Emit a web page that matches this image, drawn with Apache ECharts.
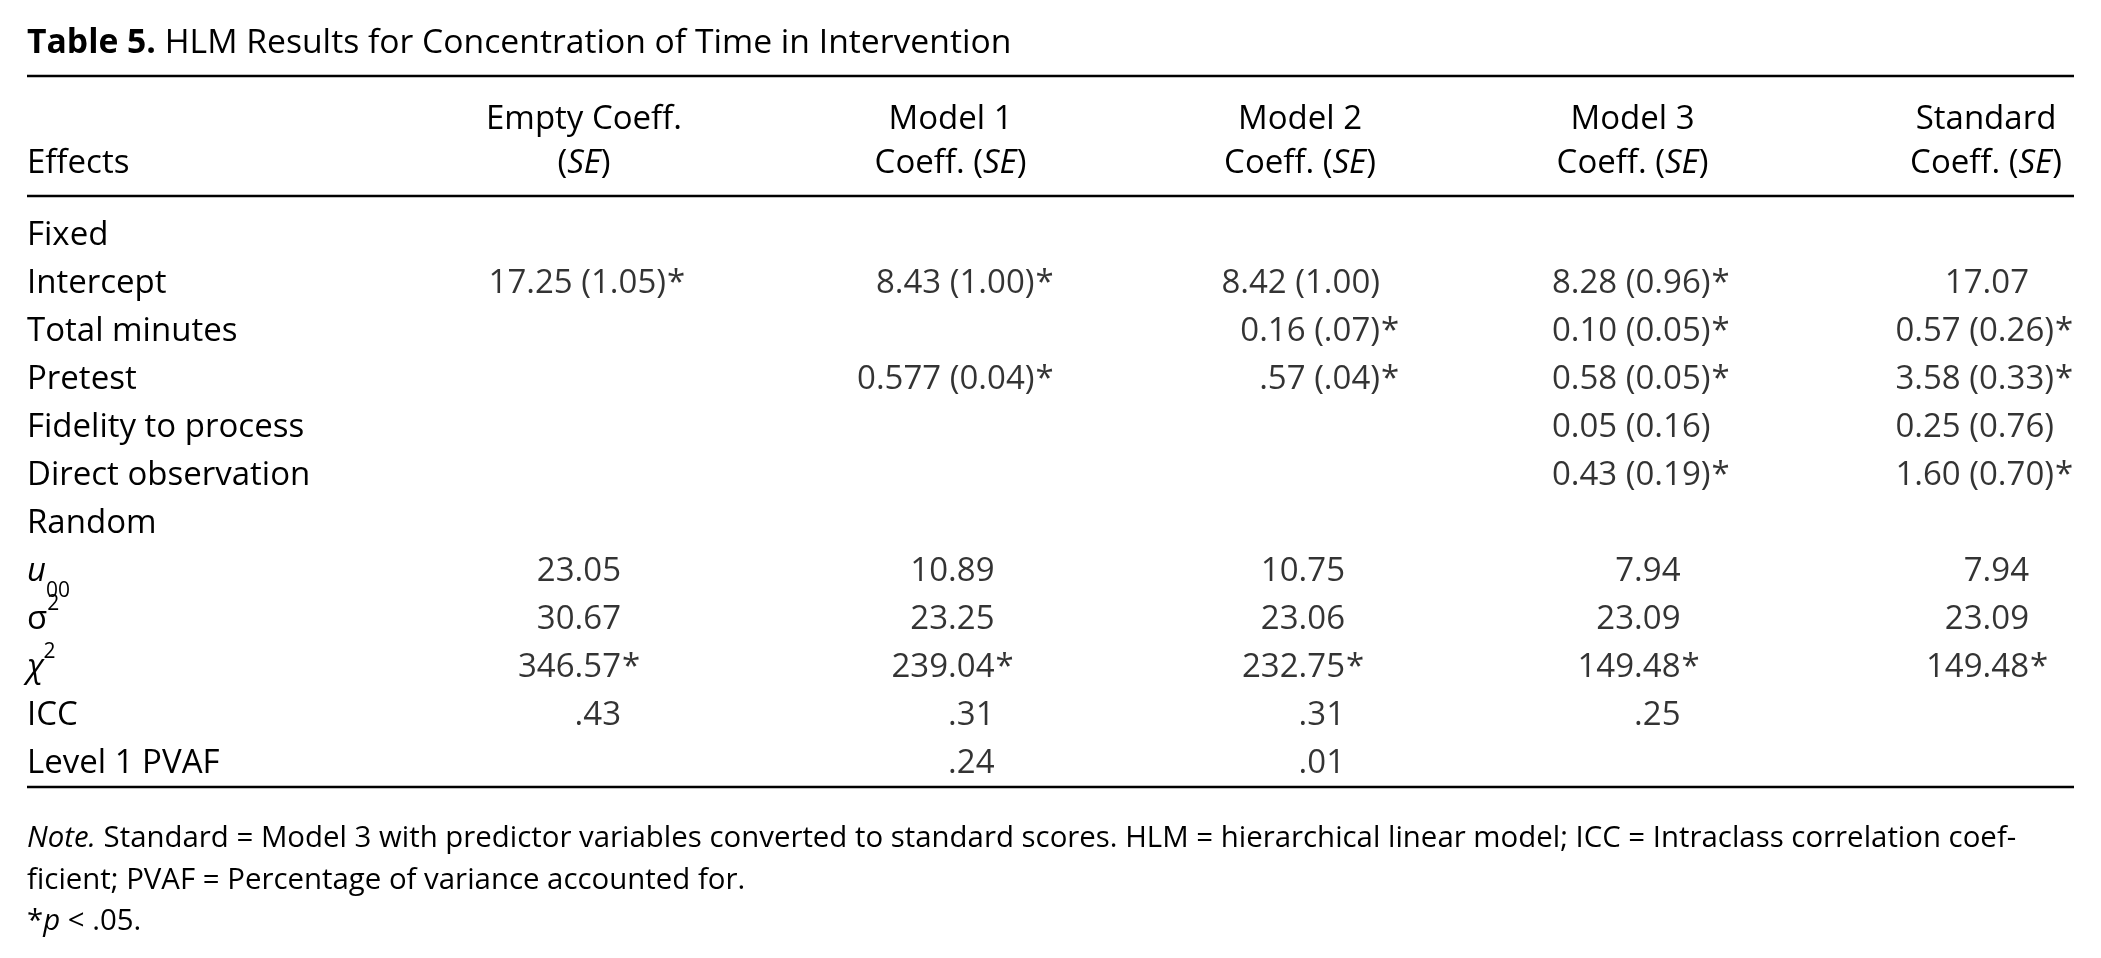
<!DOCTYPE html>
<html>
<head>
<meta charset="utf-8">
<script src="https://cdn.jsdelivr.net/npm/echarts@6.0.0/dist/echarts.min.js"></script>
<style>html,body{margin:0;background:#fff}#main{width:2101px;height:958px}</style>
</head>
<body>
<div id="main"></div>
<script>
// table content
var rowLabels = ['Fixed', 'Intercept', 'Total minutes', 'Pretest', 'Fidelity to process', 'Direct observation',
  'Random', 'u₀₀', 'σ²', 'χ²', 'ICC', 'Level 1 PVAF'];
var headTop = ['Empty Coeff.', 'Model 1', 'Model 2', 'Model 3', 'Standard'];
var headBottom = ['(SE)', 'Coeff. (SE)', 'Coeff. (SE)', 'Coeff. (SE)', 'Coeff. (SE)'];

var emptyVals = ['', '17.25 (1.05)', '', '', '', '', '', '23.05', '30.67', '346.57', '.43', ''];
var emptyStars = [0, 1, 0, 0, 0, 0, 0, 0, 0, 1, 0, 0];
var model1Vals = ['', '8.43 (1.00)', '', '0.577 (0.04)', '', '', '', '10.89', '23.25', '239.04', '.31', '.24'];
var model1Stars = [0, 1, 0, 1, 0, 0, 0, 0, 0, 1, 0, 0];
var model2Vals = ['', '8.42 (1.00)', '0.16 (.07)', '.57 (.04)', '', '', '', '10.75', '23.06', '232.75', '.31', '.01'];
var model2Stars = [0, 0, 1, 1, 0, 0, 0, 0, 0, 1, 0, 0];
var model3Vals = ['', '8.28 (0.96)', '0.10 (0.05)', '0.58 (0.05)', '0.05 (0.16)', '0.43 (0.19)', '', '7.94', '23.09', '149.48', '.25', ''];
var model3Stars = [0, 1, 1, 1, 0, 1, 0, 0, 0, 1, 0, 0];
var standardVals = ['', '17.07', '0.57 (0.26)', '3.58 (0.33)', '0.25 (0.76)', '1.60 (0.70)', '', '7.94', '23.09', '149.48', '', ''];
var standardStars = [0, 0, 1, 1, 0, 1, 0, 0, 0, 1, 0, 0];

var titleText = 'HLM Results for Concentration of Time in Intervention';
var noteLines = [
  'Standard = Model 3 with predictor variables converted to standard scores. HLM = hierarchical linear model; ICC = Intraclass correlation coef-',
  'ficient; PVAF = Percentage of variance accounted for.'
];

// layout
var font = 'Open Sans';
var fs = 33;
var titleFs = 33.7;
var noteFs = 29.4;
var ink = '#000';
var dy = 3;
var colShift = [0, 16, 15, -3, 0];
var parenAnchor = [82, 84, 80, 78, 68];
var plainAnchor = [37, 44, 45, 48, 43];

var cols = [emptyVals, model1Vals, model2Vals, model3Vals, standardVals];
var stars = [emptyStars, model1Stars, model2Stars, model3Stars, standardStars];
var cells = [], starCells = [];
cols.forEach(function (vals, c) {
  vals.forEach(function (v, r) {
    if (!v) return;
    var dx = colShift[c] + (v.indexOf('(') >= 0 ? parenAnchor[c] : plainAnchor[c]);
    cells.push({ value: [c, r], text: v, label: { offset: [dx, 0] } });
    if (stars[c][r]) starCells.push({ value: [c, r], label: { offset: [dx + 1, 0] } });
  });
});

var headData = headTop.map(function (h, i) {
  var s = colShift[i];
  return { value: h, textStyle: { padding: s >= 0 ? [0, 0, 0, 2 * s] : [0, -2 * s, 0, 0] } };
});

function rowFormat(v) {
  if (v === 'u₀₀') return '{it|u}{sub|00}';
  if (v === 'σ²') return '{g|σ}{sup|2}';
  if (v === 'χ²') return '{gi|χ}{sup|2}';
  return v;
}

var chart = echarts.init(document.getElementById('main'));

chart.setOption({
  backgroundColor: '#fff',
  animation: false,
  grid: { left: 584, right: 115, top: 209 + dy, bottom: 173 - dy, containLabel: false, outerBoundsMode: 'none' },
  xAxis: {
    type: 'category',
    position: 'top',
    data: headData,
    boundaryGap: false,
    axisLine: { show: false },
    axisTick: { show: false },
    splitLine: { show: false },
    axisLabel: {
      interval: 0, margin: 26, lineHeight: 44,
      fontFamily: font, fontSize: fs, color: ink,
      formatter: function (v, i) {
        return headTop[i] + '\n' + headBottom[i].replace('SE', '{i|SE}');
      },
      rich: { i: { fontStyle: 'italic', fontFamily: font, fontSize: fs, color: ink, lineHeight: 44 } }
    }
  },
  yAxis: {
    type: 'category',
    inverse: true,
    data: rowLabels,
    axisLine: { show: false },
    axisTick: { show: false },
    splitLine: { show: false },
    axisLabel: {
      interval: 0, margin: 557, align: 'left',
      fontFamily: font, fontSize: fs, color: ink,
      formatter: rowFormat,
      rich: {
        it: { fontStyle: 'italic', fontFamily: font, fontSize: fs, color: ink, lineHeight: 60 },
        g: { fontFamily: font, fontSize: fs, color: ink, lineHeight: 52 },
        gi: { fontStyle: 'italic', fontFamily: font, fontSize: fs, color: ink, lineHeight: 52 },
        sub: { fontFamily: font, fontSize: 21, color: ink, lineHeight: 18, verticalAlign: 'bottom' },
        sup: { fontFamily: font, fontSize: 21, color: ink, lineHeight: 18, verticalAlign: 'top' }
      }
    }
  },
  series: [
    {
      type: 'scatter', name: 'cells', data: cells, symbolSize: 1, silent: true,
      itemStyle: { color: 'rgba(0,0,0,0)' },
      label: {
        show: true, position: 'inside', align: 'right', verticalAlign: 'middle',
        fontFamily: font, fontSize: fs, color: ink,
        formatter: function (p) { return p.data.text; }
      }
    },
    {
      type: 'scatter', name: 'stars', data: starCells, symbolSize: 1, silent: true,
      itemStyle: { color: 'rgba(0,0,0,0)' },
      label: {
        show: true, position: 'inside', align: 'left', verticalAlign: 'middle',
        fontFamily: font, fontSize: fs, color: ink,
        formatter: '*'
      }
    }
  ],
  graphic: [
    { type: 'line', shape: { x1: 27, y1: 76, x2: 2074, y2: 76 }, style: { stroke: ink, lineWidth: 2.5 } },
    { type: 'line', shape: { x1: 27, y1: 196, x2: 2074, y2: 196 }, style: { stroke: ink, lineWidth: 2.5 } },
    { type: 'line', shape: { x1: 27, y1: 787, x2: 2074, y2: 787 }, style: { stroke: ink, lineWidth: 2.5 } },
    {
      type: 'text', x: 27, y: 40 + dy,
      style: {
        text: '{b|Table 5.} ' + titleText, fontFamily: font, fontSize: titleFs, fill: ink, verticalAlign: 'middle',
        rich: { b: { fontWeight: 'bold', fontFamily: font, fontSize: titleFs, fill: ink } }
      }
    },
    { type: 'text', x: 27, y: 161 + dy, style: { text: 'Effects', fontFamily: font, fontSize: fs, fill: ink, verticalAlign: 'middle' } },
    {
      type: 'text', x: 27, y: 836 + dy,
      style: {
        text: '{i|Note.} ' + noteLines[0], fontFamily: font, fontSize: noteFs, fill: ink, verticalAlign: 'middle',
        rich: { i: { fontStyle: 'italic', fontFamily: font, fontSize: noteFs, fill: ink } }
      }
    },
    { type: 'text', x: 27, y: 878 + dy, style: { text: noteLines[1], fontFamily: font, fontSize: noteFs, fill: ink, verticalAlign: 'middle' } },
    {
      type: 'text', x: 27, y: 919 + dy,
      style: {
        text: '*{i|p} < .05.', fontFamily: font, fontSize: noteFs, fill: ink, verticalAlign: 'middle',
        rich: { i: { fontStyle: 'italic', fontFamily: font, fontSize: noteFs, fill: ink } }
      }
    }
  ]
});
</script>
</body>
</html>
